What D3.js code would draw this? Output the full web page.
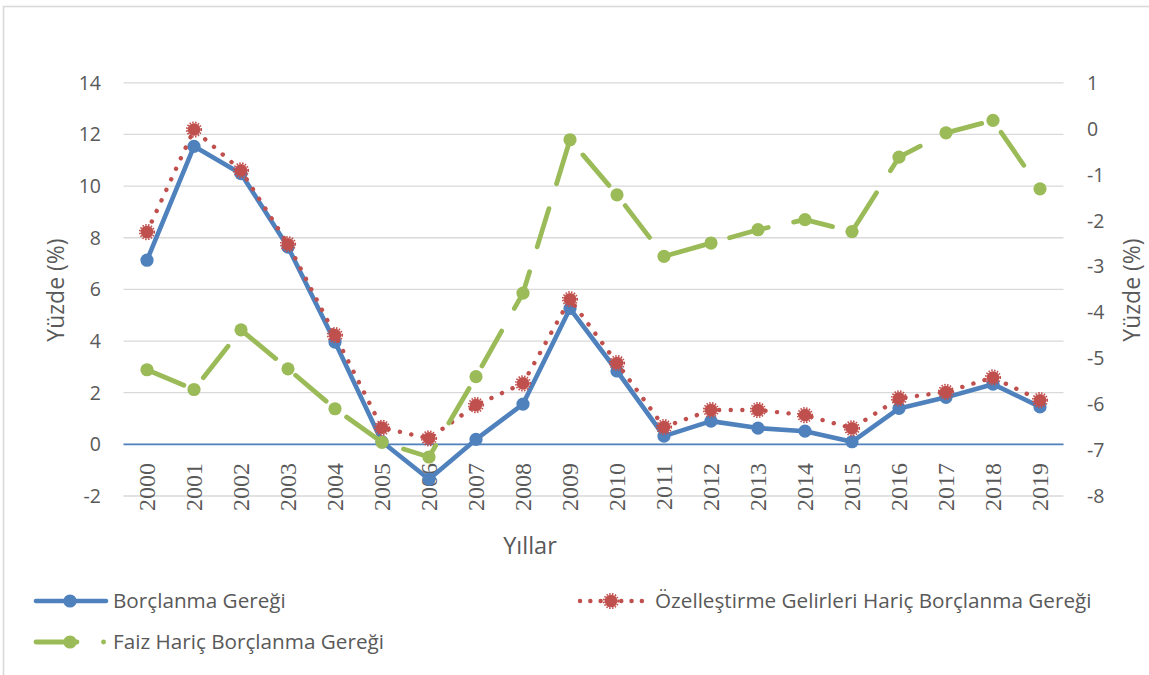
<!DOCTYPE html>
<html>
<head>
<meta charset="utf-8">
<script src="https://cdn.jsdelivr.net/npm/d3@7"></script>
<style>
  body { margin: 0; background: #fff; }
  svg { display: block; }
</style>
</head>
<body>
<svg id="chart" width="1149" height="675"></svg>
<script>
const years = ["2000","2001","2002","2003","2004","2005","2006","2007","2008","2009",
  "2010","2011","2012","2013","2014","2015","2016","2017","2018","2019"];

// left axis
const borclanma = [7.13, 11.54, 10.48, 7.64, 3.96, 0.1, -1.35, 0.19, 1.56, 5.26,
  2.84, 0.32, 0.9, 0.63, 0.51, 0.1, 1.39, 1.82, 2.33, 1.45];
const ozellestirme = [8.22, 12.19, 10.61, 7.75, 4.23, 0.64, 0.23, 1.52, 2.36, 5.62,
  3.15, 0.67, 1.33, 1.33, 1.13, 0.62, 1.78, 2.03, 2.59, 1.71];
// right axis
const faiz = [-5.25, -5.68, -4.38, -5.23, -6.1, -6.83, -7.15, -5.4, -3.58, -0.24,
  -1.44, -2.78, -2.49, -2.2, -1.98, -2.24, -0.62, -0.09, 0.18, -1.31];

const leftTicks = [-2, 0, 2, 4, 6, 8, 10, 12, 14];
const rightTicks = [-8, -7, -6, -5, -4, -3, -2, -1, 0, 1];

const BLUE = "#4F81BD", RED = "#C0504D", GREEN = "#9BBB59", TXT = "#595959";

const svg = d3.select("#chart");

// outer frame
svg.append("rect")
  .attr("x", 3.5).attr("y", 6.5)
  .attr("width", 1200).attr("height", 700)
  .attr("fill", "none").attr("stroke", "#D9D9D9").attr("stroke-width", 1.6);

const plotTop = 82.8, plotBottom = 496, plotLeft = 123.5, plotRight = 1063.5;

const x = d3.scaleBand().domain(years).range([plotLeft, plotRight]).paddingInner(0).paddingOuter(0);
const cx = d => x(d) + x.bandwidth() / 2;
const yL = d3.scaleLinear().domain([-2, 14]).range([plotBottom, plotTop]);
const yR = d3.scaleLinear().domain([-8, 1]).range([plotBottom, plotTop]);

// gridlines
svg.append("g").selectAll("line").data(leftTicks).join("line")
  .attr("x1", plotLeft).attr("x2", plotRight)
  .attr("y1", d => yL(d)).attr("y2", d => yL(d))
  .attr("stroke", "#D9D9D9").attr("stroke-width", 1.3);

// zero axis line
svg.append("line")
  .attr("x1", plotLeft).attr("x2", plotRight)
  .attr("y1", yL(0)).attr("y2", yL(0))
  .attr("stroke", BLUE).attr("stroke-width", 1.6);

// left tick labels
svg.append("g").selectAll("text").data(leftTicks).join("text")
  .attr("x", 101).attr("y", d => yL(d)).attr("dy", "0.36em")
  .attr("text-anchor", "end")
  .attr("font-family", "Open Sans").attr("font-size", 19.5).attr("fill", TXT)
  .text(d => d);

// right tick labels
svg.append("g").selectAll("text").data(rightTicks).join("text")
  .attr("x", 1087).attr("y", d => yR(d)).attr("dy", "0.36em")
  .attr("text-anchor", "start")
  .attr("font-family", "Open Sans").attr("font-size", 19.5).attr("fill", TXT)
  .text(d => d);

// x tick labels (rotated)
svg.append("g").selectAll("text").data(years).join("text")
  .attr("transform", d => `translate(${cx(d)},463) rotate(-90)`)
  .attr("dy", "0.33em")
  .attr("text-anchor", "end")
  .attr("font-family", "Liberation Serif").attr("font-size", 24).attr("fill", TXT)
  .text(d => d);

// axis titles
svg.append("text")
  .attr("transform", "translate(64,290) rotate(-90)")
  .attr("text-anchor", "middle")
  .attr("font-family", "Open Sans").attr("font-size", 23).attr("fill", TXT)
  .text("Yüzde (%)");
svg.append("text")
  .attr("transform", "translate(1140,290) rotate(-90)")
  .attr("text-anchor", "middle")
  .attr("font-family", "Open Sans").attr("font-size", 23).attr("fill", TXT)
  .text("Yüzde (%)");
svg.append("text")
  .attr("x", 530).attr("y", 554)
  .attr("text-anchor", "middle")
  .attr("font-family", "Open Sans").attr("font-size", 23.5).attr("fill", TXT)
  .text("Yıllar");

// series
const blueRows = years.map((y, i) => ({ year: y, v: borclanma[i] }));
const redRows = years.map((y, i) => ({ year: y, v: ozellestirme[i] }));
const greenRows = years.map((y, i) => ({ year: y, v: faiz[i] }));

const lineL = d3.line().x(d => cx(d.year)).y(d => yL(d.v));
const lineR = d3.line().x(d => cx(d.year)).y(d => yR(d.v));

function redMarker(g, px, py) {
  g.append("circle").attr("cx", px).attr("cy", py).attr("r", 6.3).attr("fill", RED);
  g.append("circle").attr("cx", px).attr("cy", py).attr("r", 7.2)
    .attr("fill", "none").attr("stroke", RED).attr("stroke-width", 1.8)
    .attr("stroke-dasharray", "1.5,1.4");
}

// blue
svg.append("path").datum(blueRows)
  .attr("fill", "none").attr("stroke", BLUE).attr("stroke-width", 4.6)
  .attr("stroke-linejoin", "round").attr("stroke-linecap", "round")
  .attr("d", lineL);
svg.append("g").selectAll("circle").data(blueRows).join("circle")
  .attr("cx", d => cx(d.year)).attr("cy", d => yL(d.v)).attr("r", 6.6)
  .attr("fill", BLUE);

// red dotted
svg.append("path").datum(redRows)
  .attr("fill", "none").attr("stroke", RED).attr("stroke-width", 4.4)
  .attr("stroke-linecap", "round").attr("stroke-dasharray", "0.1,11.5")
  .attr("d", lineL);
const redG = svg.append("g");
redRows.forEach(d => redMarker(redG, cx(d.year), yL(d.v)));

// green long dash
svg.append("path").datum(greenRows)
  .attr("fill", "none").attr("stroke", GREEN).attr("stroke-width", 4.8)
  .attr("stroke-linecap", "round").attr("stroke-linejoin", "round")
  .attr("stroke-dasharray", "40,26")
  .attr("d", lineR);
svg.append("g").selectAll("circle").data(greenRows).join("circle")
  .attr("cx", d => cx(d.year)).attr("cy", d => yR(d.v)).attr("r", 6.6)
  .attr("fill", GREEN);

// legend
const lg = svg.append("g").attr("font-family", "Open Sans").attr("font-size", 20.7).attr("fill", TXT);

lg.append("line").attr("x1", 36).attr("x2", 106).attr("y1", 601).attr("y2", 601)
  .attr("stroke", BLUE).attr("stroke-width", 4.6).attr("stroke-linecap", "round");
lg.append("circle").attr("cx", 70).attr("cy", 601).attr("r", 6.6).attr("fill", BLUE);
lg.append("text").attr("x", 113).attr("y", 601).attr("dy", "0.36em").text("Borçlanma Gereği");

lg.append("line").attr("x1", 580).attr("x2", 642).attr("y1", 601).attr("y2", 601)
  .attr("stroke", RED).attr("stroke-width", 4.4).attr("stroke-linecap", "round")
  .attr("stroke-dasharray", "0.1,10.2");
redMarker(lg, 611, 601);
lg.append("text").attr("x", 655).attr("y", 601).attr("dy", "0.36em")
  .text("Özelleştirme Gelirleri Hariç Borçlanma Gereği");

lg.append("line").attr("x1", 36).attr("x2", 103.6).attr("y1", 642).attr("y2", 642)
  .attr("stroke", GREEN).attr("stroke-width", 4.8).attr("stroke-linecap", "round")
  .attr("stroke-dasharray", "41,26.5");
lg.append("circle").attr("cx", 70).attr("cy", 642).attr("r", 6.6).attr("fill", GREEN);
lg.append("text").attr("x", 113).attr("y", 642).attr("dy", "0.36em").text("Faiz Hariç Borçlanma Gereği");
</script>
</body>
</html>
